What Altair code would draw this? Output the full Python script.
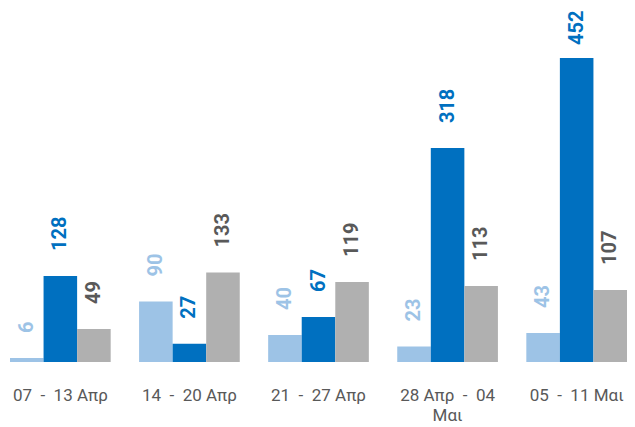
import altair as alt
import pandas as pd

categories = ["07 - 13 Απρ", "14 - 20 Απρ", "21 - 27 Απρ", "28 Απρ - 04 Μαι", "05 - 11 Μαι"]
series = ["A", "B", "C"]
values_a = [6, 90, 40, 23, 43]
values_b = [128, 27, 67, 318, 452]
values_c = [49, 133, 119, 113, 107]

bar_colors = ["#9dc3e6", "#0070c0", "#b0b0b0"]
label_colors = ["#9dc3e6", "#0070c0", "#595959"]

rows = []
for i, c in enumerate(categories):
    for s, vals in zip(series, [values_a, values_b, values_c]):
        rows.append({"week": c, "series": s, "value": vals[i]})
df = pd.DataFrame(rows)
ymax = max(values_a + values_b + values_c)

label_expr = (
    "datum.value == '28 Απρ - 04 Μαι' ? ['28 Απρ\u00a0\u00a0-\u00a0\u00a004', 'Μαι'] "
    ": replace(datum.value, ' - ', '\u00a0\u00a0-\u00a0\u00a0')"
)

x = alt.X("week:N", sort=categories, title=None,
          scale=alt.Scale(paddingInner=0.22, paddingOuter=0),
          axis=alt.Axis(domain=False, ticks=False, labelAngle=0, labelFont="Roboto",
                        labelFontSize=17, labelColor="#595959", labelPadding=25,
                        labelLineHeight=20, labelLimit=0, labelOverlap=False,
                        labelExpr=label_expr))
xo = alt.XOffset("series:N", sort=series, scale=alt.Scale(paddingInner=0, paddingOuter=0))
y = alt.Y("value:Q", scale=alt.Scale(domain=[0, ymax], nice=False, zero=True), axis=None)
label_color = alt.Color("series:N", sort=series,
                        scale=alt.Scale(domain=series, range=label_colors), legend=None)

bars = alt.Chart(df).mark_bar().encode(
    x=x, xOffset=xo, y=y,
    color=alt.Color("series:N", sort=series, scale=alt.Scale(domain=series, range=bar_colors), legend=None),
)
labels = alt.Chart(df).transform_filter(f"datum.value < {ymax}").mark_text(
    angle=270, align="left", baseline="middle", dx=25,
    font="Roboto", fontSize=20, fontWeight="bold").encode(
    x=x, xOffset=xo, y=y, text="value:Q", color=label_color,
)
top_label = alt.Chart(df).transform_filter(f"datum.value >= {ymax}").mark_text(
    angle=270, align="left", baseline="middle", dx=13,
    font="Roboto", fontSize=20, fontWeight="bold").encode(
    x=x, xOffset=xo, y=y, text="value:Q", color=label_color,
)

chart = alt.layer(bars, labels, top_label).resolve_scale(color="independent").properties(
    width=617, height=304,
    autosize=alt.AutoSizeParams(type="none"),
    padding={"left": 2, "top": 50, "right": 0, "bottom": 62},
).configure_view(stroke=None)

chart.save("out.html", embed_options={"renderer": "svg", "actions": False})
